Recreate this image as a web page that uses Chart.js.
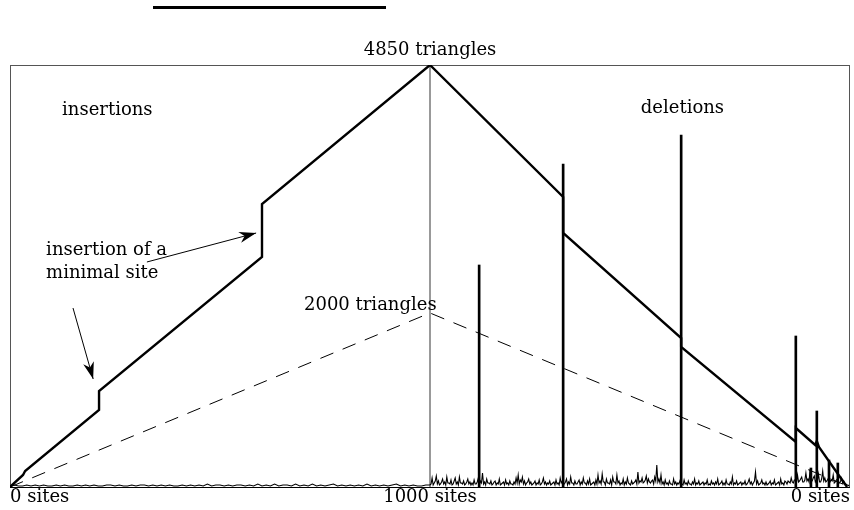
<!DOCTYPE html>
<html>
<head>
<meta charset="utf-8">
<script src="https://cdn.jsdelivr.net/npm/chart.js@4.4.1/dist/chart.umd.min.js"></script>
<style>
	html, body { margin: 0; padding: 0; background: #fff; }
	#wrap { position: relative; width: 854px; height: 510px; }
	#rule { position: absolute; left: 153px; top: 6px; width: 233px; height: 3px; background: #000; }
</style>
</head>
<body>
<div id="wrap">
	<div id="rule"></div>
	<canvas id="chart" width="854" height="510"></canvas>
</div>
<script>
// x = operation step (0..1000 insertions, 1000..2000 deletions)
const siteTicks = [0, 1000, 2000];
const siteLabels = ["0 sites", "1000 sites", "0 sites"];

// number of triangles in the triangulation
const curveStep = [0, 31, 36, 212, 212, 600, 600, 1000, 1317, 1317, 1598, 1598, 1871, 1871, 1917, 1921, 1926, 1993];
const curveTri = [0, 138, 184, 885, 1103, 2643, 3253, 4850, 3333, 2919, 1712, 1609, 517, 678, 483, 529, 460, 0];

// reference: 2000 triangles
const refStep = [0, 1000, 2000];
const refTri = [0, 2000, 0];

// time per operation (arbitrary units), insertions sampled every 10 steps
const insTime = [
	1, 2, 1, 1, 2, 1, 2, 1, 2, 1, 1, 2, 1, 2, 1, 1, 2, 1, 2, 1,
	2, 1, 1, 2, 2, 1, 2, 1, 1, 2, 1, 2, 2, 1, 2, 1, 2, 1, 2, 1,
	1, 2, 1, 2, 1, 2, 1, 3, 1, 2, 2, 1, 2, 1, 2, 2, 1, 2, 1, 3,
	1, 2, 1, 3, 1, 2, 2, 1, 3, 1, 2, 1, 3, 1, 2, 1, 2, 3, 1, 2,
	1, 2, 1, 2, 1, 3, 1, 2, 1, 2, 1, 2, 3, 1, 2, 1, 2, 1, 1, 2,
];
// deletions sampled every 2.5 steps
const delTime = [
	2, 3, 9, 2, 4, 6, 11, 3, 6, 2, 3, 5, 8, 3, 5, 2, 10, 4, 4, 3, 7, 2, 3, 6, 9, 3, 5, 2, 10, 4, 4, 3, 6, 2, 3, 5, 8, 3, 5, 2,
	4, 2, 7, 3, 3, 5, 9, 2, 6, 4, 14, 3, 5, 2, 8, 4, 4, 3, 6, 2, 3, 5, 6, 2, 4, 3, 8, 2, 3, 4, 5, 2, 7, 3, 4, 2, 6, 3, 3, 2,
	5, 3, 9, 4, 12, 3, 7, 5, 10, 3, 6, 2, 4, 5, 8, 3, 5, 2, 3, 4, 6, 2, 4, 3, 7, 2, 3, 5, 9, 3, 5, 2, 4, 3, 6, 2, 3, 4, 5, 2,
	7, 3, 4, 2, 9, 4, 6, 3, 3, 5, 8, 2, 5, 3, 10, 4, 4, 2, 6, 3, 3, 5, 7, 2, 5, 3, 9, 4, 4, 2, 6, 3, 8, 2, 3, 4, 5, 2, 7, 3,
	12, 4, 6, 3, 13, 5, 5, 2, 8, 4, 4, 3, 7, 2, 10, 5, 5, 3, 12, 4, 6, 2, 4, 3, 8, 2, 5, 3, 9, 4, 3, 2, 6, 3, 4, 5, 7, 3, 15, 4,
	6, 5, 9, 4, 5, 7, 11, 4, 8, 5, 4, 6, 7, 3, 10, 6, 22, 5, 8, 4, 12, 3, 5, 2, 7, 3, 4, 2, 6, 3, 3, 2, 8, 3, 5, 2, 4, 3, 6, 2,
	3, 2, 7, 3, 4, 2, 6, 3, 3, 2, 5, 3, 8, 2, 4, 3, 6, 2, 3, 4, 5, 2, 4, 3, 7, 2, 3, 2, 6, 3, 4, 2, 5, 3, 8, 2, 3, 4, 6, 2,
	4, 2, 7, 3, 3, 2, 5, 3, 10, 2, 4, 3, 6, 2, 3, 4, 5, 2, 4, 3, 6, 2, 3, 5, 8, 3, 5, 2, 4, 6, 15, 3, 6, 2, 3, 4, 7, 3, 4, 2,
	5, 2, 3, 4, 6, 2, 4, 3, 7, 2, 3, 4, 5, 2, 8, 3, 4, 2, 6, 5, 3, 6, 5, 4, 9, 5, 4, 7, 7, 4, 12, 5, 6, 8, 10, 5, 5, 7, 14, 6,
	8, 5, 18, 6, 6, 9, 11, 5, 7, 6, 13, 5, 5, 8, 16, 6, 9, 5, 6, 8, 10, 5, 7, 6, 12, 4, 5, 7, 8, 4, 4, 6, 9, 4, 6, 3, 3, 2, 2, 1,
];
// slow operations
const spikeStep = [1117, 1317, 1598, 1871, 1907, 1921, 1950, 1971];
const spikeTime = [222, 323, 352, 151, 19, 76, 27, 24];

// annotations
const notes = [
	{ text: "4850 triangles", x: 1000, y: 5022, align: "center" },
	{ text: "insertions", x: 124, y: 4333, align: "left" },
	{ text: "deletions", x: 1502, y: 4356, align: "left" },
	{ text: "insertion of a", x: 86, y: 2724, align: "left" },
	{ text: "minimal site", x: 86, y: 2459, align: "left" },
	{ text: "2000 triangles", x: 700, y: 2092, align: "left" },
];
const arrows = [
	{ from: [326, 2586], to: [586, 2919] },
	{ from: [150, 2057], to: [198, 1241] },
];

const FONT = '18px "DejaVu Serif"';

const timeData = [];
insTime.forEach((v, i) => timeData.push({ x: i * 10, y: v }));
delTime.forEach((v, i) => timeData.push({ x: 1000 + i * 2.5, y: v }));

const figurePlugin = {
	id: "figure",
	beforeDatasetsDraw(chart) {
		const { ctx, chartArea: a } = chart;
		ctx.save();
		ctx.strokeStyle = "#555";
		ctx.lineWidth = 1;
		ctx.strokeRect(a.left + 0.5, a.top + 0.5, a.right - a.left - 1, a.bottom - a.top);
		ctx.strokeStyle = "#000";
		ctx.beginPath();
		ctx.moveTo(a.left, a.bottom + 0.5);
		ctx.lineTo(a.right, a.bottom + 0.5);
		ctx.stroke();
		ctx.restore();
	},
	afterDatasetsDraw(chart) {
		const { ctx } = chart;
		const xs = chart.scales.x;
		const ys = chart.scales.y;
		ctx.save();
		ctx.fillStyle = "#000";
		ctx.font = FONT;
		ctx.textBaseline = "middle";
		notes.forEach((n) => {
			ctx.textAlign = n.align;
			ctx.fillText(n.text, xs.getPixelForValue(n.x), ys.getPixelForValue(n.y));
		});
		ctx.strokeStyle = "#000";
		ctx.lineWidth = 1;
		arrows.forEach((ar) => {
			const x0 = xs.getPixelForValue(ar.from[0]);
			const y0 = ys.getPixelForValue(ar.from[1]);
			const x1 = xs.getPixelForValue(ar.to[0]);
			const y1 = ys.getPixelForValue(ar.to[1]);
			const ang = Math.atan2(y1 - y0, x1 - x0);
			ctx.beginPath();
			ctx.moveTo(x0, y0);
			ctx.lineTo(x1, y1);
			ctx.stroke();
			const len = 17, half = 5.5;
			ctx.beginPath();
			ctx.moveTo(x1, y1);
			ctx.lineTo(x1 - len * Math.cos(ang) + half * Math.sin(ang), y1 - len * Math.sin(ang) - half * Math.cos(ang));
			ctx.lineTo(x1 - len * 0.7 * Math.cos(ang), y1 - len * 0.7 * Math.sin(ang));
			ctx.lineTo(x1 - len * Math.cos(ang) - half * Math.sin(ang), y1 - len * Math.sin(ang) + half * Math.cos(ang));
			ctx.closePath();
			ctx.fill();
		});
		ctx.restore();
	},
};

new Chart(document.getElementById("chart"), {
	data: {
		datasets: [
			{
				type: "line",
				label: "triangles",
				data: curveStep.map((s, i) => ({ x: s, y: curveTri[i] })),
				borderColor: "#000",
				borderWidth: 2.4,
				pointRadius: 0,
				tension: 0,
				order: 1,
			},
			{
				type: "bar",
				label: "slow operations",
				yAxisID: "y2",
				data: spikeStep.map((s, i) => ({ x: s, y: spikeTime[i] })),
				backgroundColor: "#000",
				barThickness: 2,
				order: 2,
			},
			{
				type: "line",
				label: "time",
				yAxisID: "y2",
				data: timeData,
				borderColor: "#000",
				borderWidth: 1.1,
				pointRadius: 0,
				tension: 0,
				order: 3,
			},
			{
				type: "line",
				label: "2000 triangles",
				data: refStep.map((s, i) => ({ x: s, y: refTri[i] })),
				borderColor: "#000",
				borderWidth: 1,
				borderDash: [14, 10],
				pointRadius: 0,
				tension: 0,
				order: 4,
			},
			{
				type: "line",
				label: "turn",
				data: [{ x: 1000, y: 0 }, { x: 1000, y: 4850 }],
				borderColor: "#777",
				borderWidth: 1.5,
				pointRadius: 0,
				order: 5,
			},
		],
	},
	options: {
		responsive: false,
		animation: false,
		layout: { padding: { left: 10, right: 4, top: 65, bottom: 0 } },
		plugins: {
			legend: { display: false },
			tooltip: { enabled: false },
		},
		scales: {
			x: {
				type: "linear",
				min: 0,
				max: 2000,
				offset: false,
				afterBuildTicks: (axis) => {
					axis.ticks = siteTicks.map((v) => ({ value: v }));
				},
				afterFit: (axis) => {
					axis.height = 23;
				},
				ticks: {
					callback: (v, i) => siteLabels[i],
					align: "inner",
					autoSkip: false,
					maxRotation: 0,
					padding: 0,
					color: "#000",
					font: { family: "DejaVu Serif", size: 18 },
				},
				grid: { display: false, drawTicks: false, offset: false },
				border: { display: false },
			},
			y: { display: false, min: 0, max: 4850 },
			y2: { display: false, min: 0, max: 422 },
		},
	},
	plugins: [figurePlugin],
});
</script>
</body>
</html>
